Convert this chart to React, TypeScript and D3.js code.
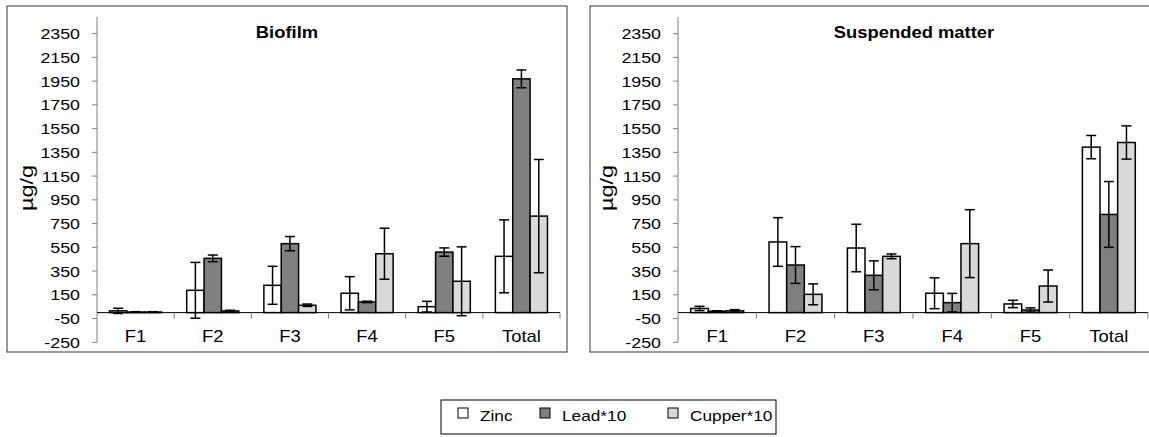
import * as React from "react";
import * as d3 from "d3";

// categories / series
const categories = ["F1", "F2", "F3", "F4", "F5", "Total"];
const seriesNames = ["Zinc", "Lead*10", "Cupper*10"];
const seriesFill = ["#ffffff", "#808080", "#d9d9d9"];
const yTicks = [-250, -50, 150, 350, 550, 750, 950, 1150, 1350, 1550, 1750, 1950, 2150, 2350];

// Biofilm (µg/g)
const biofilmZinc = [15, 188, 230, 163, 50, 474];
const biofilmZincErr = [22, 235, 160, 140, 45, 307];
const biofilmLead = [5, 457, 581, 90, 510, 1969];
const biofilmLeadErr = [3, 28, 60, 6, 35, 75];
const biofilmCupper = [5, 14, 62, 496, 264, 813];
const biofilmCupperErr = [3, 6, 10, 215, 290, 477];

// Suspended matter (µg/g)
const suspZinc = [35, 595, 544, 163, 73, 1394];
const suspZincErr = [18, 205, 200, 130, 31, 98];
const suspLead = [12, 401, 314, 84, 22, 827];
const suspLeadErr = [4, 155, 122, 78, 18, 277];
const suspCupper = [15, 154, 474, 581, 224, 1433];
const suspCupperErr = [10, 88, 20, 286, 135, 140];

const SX = 1.15; // the source picture is stretched sideways
const FONT = "'Liberation Sans', Arial, sans-serif";

const panels = [
  {
    title: "Biofilm",
    box: { x: 7, y: 6, w: 560, h: 346 },
    x0: 97,
    x1: 560,
    titleX: 287,
    labelX: 27,
    values: [biofilmZinc, biofilmLead, biofilmCupper],
    errors: [biofilmZincErr, biofilmLeadErr, biofilmCupperErr],
  },
  {
    title: "Suspended matter",
    box: { x: 590, y: 6, w: 580, h: 346 },
    x0: 678,
    x1: 1148,
    titleX: 914,
    labelX: 607,
    values: [suspZinc, suspLead, suspCupper],
    errors: [suspZincErr, suspLeadErr, suspCupperErr],
  },
];

const Txt = ({ x, y, anchor = "start", size = 15, weight = "normal", children }: any) => (
  <text
    transform={`translate(${x},${y}) scale(${SX},1)`}
    textAnchor={anchor}
    fontSize={size}
    fontWeight={weight}
    fontFamily={FONT}
    fill="#000"
  >
    {children}
  </text>
);

const y = d3.scaleLinear().domain([-250, 2490]).range([342.3, 17]);

const Panel = ({ p }: any) => {
  const x = d3.scaleBand<string>().domain(categories).range([p.x0, p.x1]);
  const step = x.step();
  const groupW = step * 0.675;
  const xs = d3.scaleBand<string>().domain(seriesNames).range([0, groupW]);
  const bw = xs.bandwidth();
  const y0 = y(0);
  const cap = 5;

  return (
    <g>
      <rect x={p.box.x} y={p.box.y} width={p.box.w} height={p.box.h} fill="#fff" stroke="#333" strokeWidth={1} />
      <Txt x={p.titleX} y={38} anchor="middle" size={16} weight="bold">{p.title}</Txt>

      {/* y axis */}
      <line x1={p.x0} x2={p.x0} y1={y.range()[1]} y2={y(-250)} stroke="#808080" />
      {yTicks.map((t) => (
        <g key={t}>
          <line x1={p.x0 - 5} x2={p.x0} y1={y(t)} y2={y(t)} stroke="#808080" />
          <Txt x={p.x0 - 17} y={y(t) + 5.5} anchor="end" size={15.5}>{t}</Txt>
        </g>
      ))}
      <text
        transform={`translate(${p.labelX},188) scale(${SX},1) rotate(-90)`}
        textAnchor="middle"
        fontSize={16}
        fontFamily={FONT}
        textLength={46}
        lengthAdjust="spacingAndGlyphs"
        dy="0.35em"
      >
        µg/g
      </text>

      {/* bars */}
      {categories.map((c, ci) => {
        const gx = (x(c) as number) + (step - groupW) / 2;
        return seriesNames.map((s, si) => {
          const v = p.values[si][ci];
          const e = p.errors[si][ci];
          const bx = gx + (xs(s) as number);
          const cx = bx + bw / 2;
          return (
            <g key={c + s}>
              <rect
                x={bx}
                y={Math.min(y(v), y0)}
                width={bw}
                height={Math.abs(y0 - y(v))}
                fill={seriesFill[si]}
                stroke="#000"
                strokeWidth={1.5}
              />
              <g stroke="#000" strokeWidth={1.5}>
                <line x1={cx} x2={cx} y1={y(v + e)} y2={y(v - e)} />
                <line x1={cx - cap} x2={cx + cap} y1={y(v + e)} y2={y(v + e)} />
                <line x1={cx - cap} x2={cx + cap} y1={y(v - e)} y2={y(v - e)} />
              </g>
            </g>
          );
        });
      })}

      {/* x axis */}
      <line x1={p.x0} x2={p.x1} y1={y0} y2={y0} stroke="#000" />
      {categories.map((c) => (
        <line key={c} x1={(x(c) as number) + step} x2={(x(c) as number) + step} y1={y0} y2={y0 + 6} stroke="#808080" />
      ))}
      {categories.map((c) => (
        <Txt key={c} x={(x(c) as number) + step / 2} y={342} anchor="middle" size={16}>{c}</Txt>
      ))}
    </g>
  );
};

export default function App() {
  const legendX = [458, 540, 668];
  return (
    <svg width={1149} height={437} style={{ position: "absolute", left: 0, top: 0, background: "#fff" }}>
      <rect x={0} y={0} width={1149} height={437} fill="#fff" />
      {panels.map((p) => (
        <Panel key={p.title} p={p} />
      ))}
      <rect x={441} y={400} width={335} height={34} fill="#fff" stroke="#000" strokeWidth={1} />
      {seriesNames.map((s, i) => (
        <g key={s}>
          <rect x={legendX[i]} y={408} width={10} height={10} fill={seriesFill[i]} stroke="#000" strokeWidth={1} />
          <Txt x={legendX[i] + 22} y={421} size={15}>{s}</Txt>
        </g>
      ))}
    </svg>
  );
}
